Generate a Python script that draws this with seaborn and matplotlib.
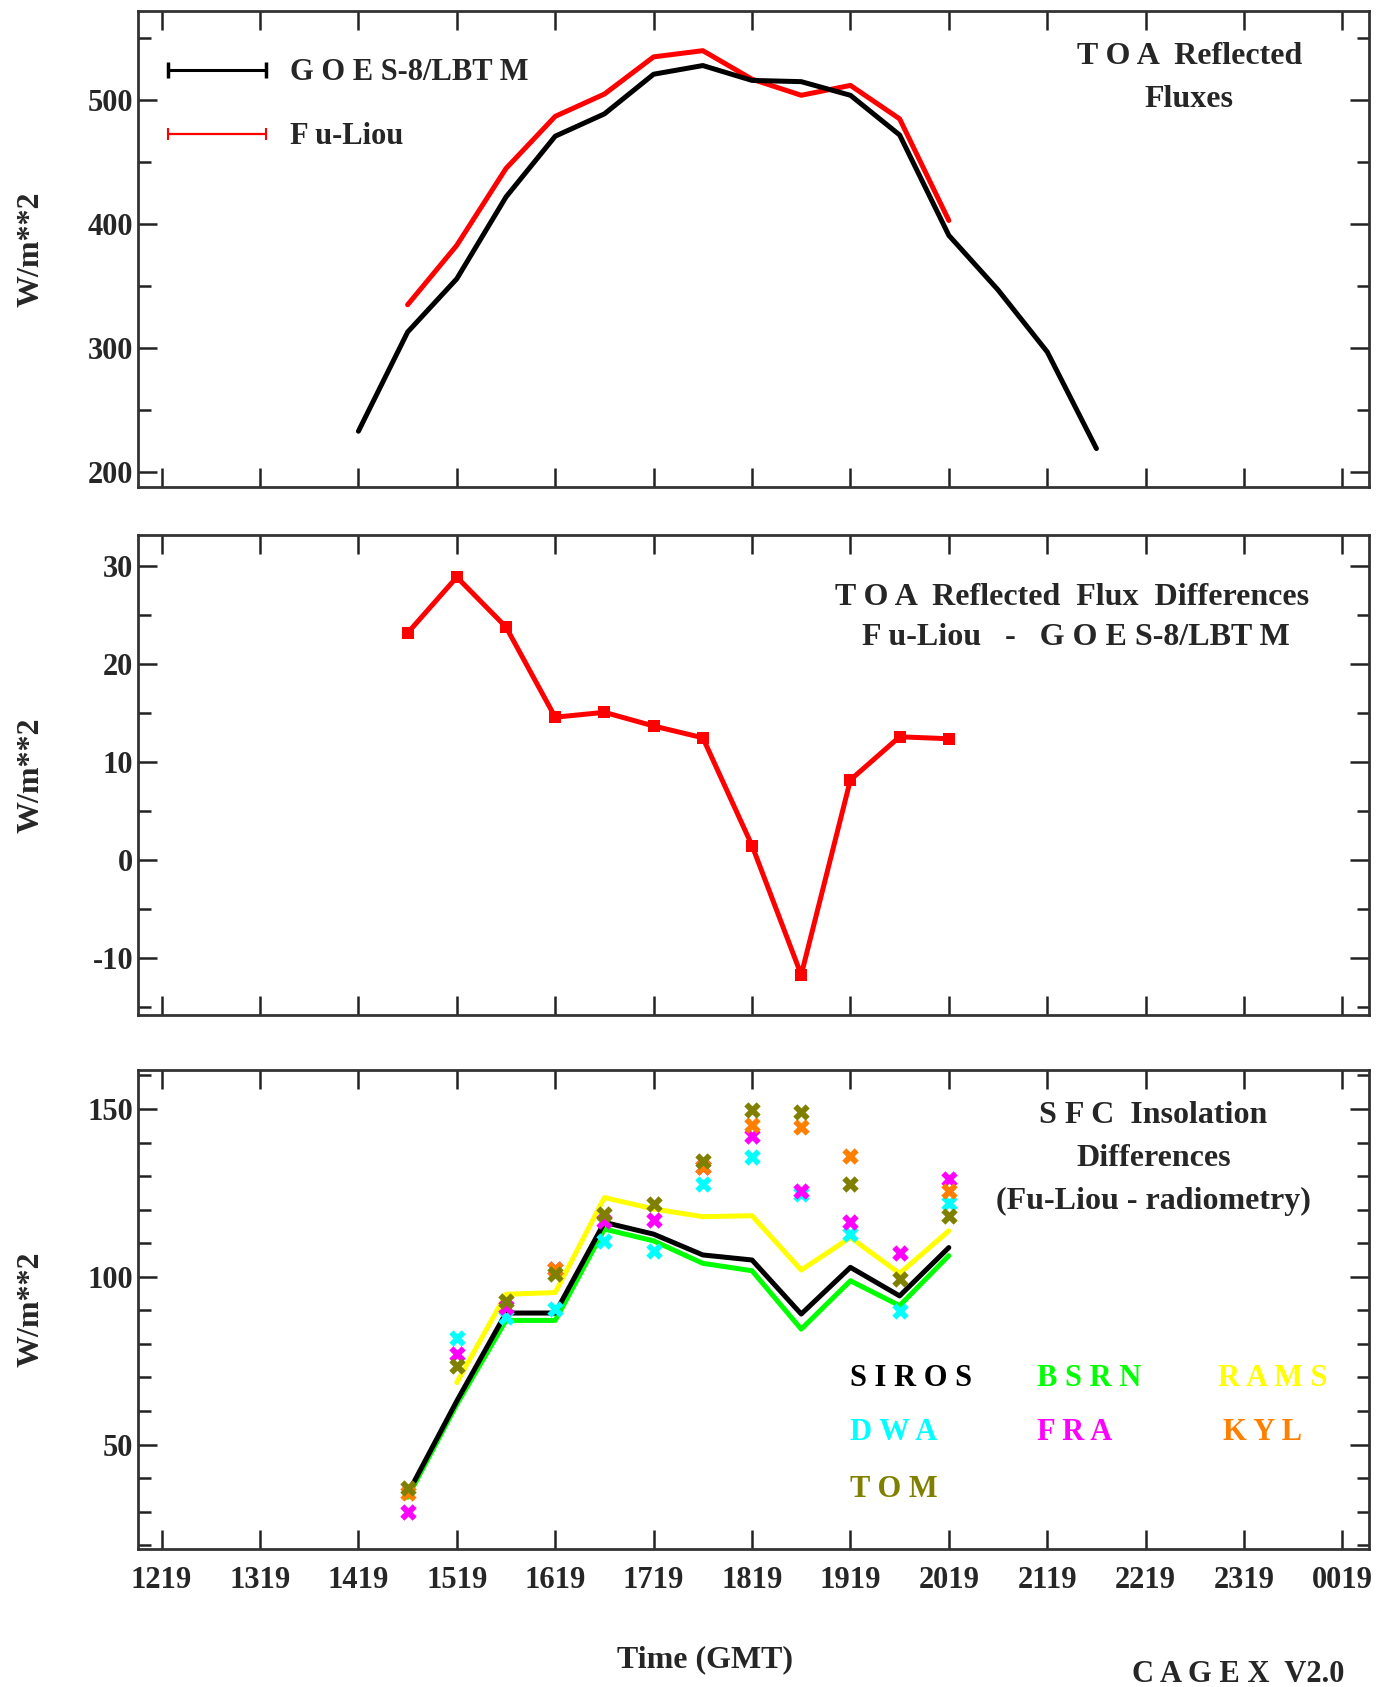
import numpy as np
import pandas as pd
import matplotlib
matplotlib.use("Agg")
import matplotlib.pyplot as plt
import seaborn as sns
from matplotlib.lines import Line2D
from matplotlib.ticker import MultipleLocator, FixedLocator

# ---------------- data ----------------
times_toa = ["1419", "1449", "1519", "1549", "1619", "1649", "1719", "1749",
             "1819", "1849", "1919", "1949", "2019", "2049", "2119", "2149"]
goes_lbtm = [233, 313, 356, 422, 471, 489, 521, 528, 516, 515, 504, 472, 391, 347, 297, 219]

times_fl = ["1449", "1519", "1549", "1619", "1649", "1719", "1749", "1819",
            "1849", "1919", "1949", "2019"]
fu_liou = [335, 383, 445, 487, 505, 535, 540, 517, 504, 512, 485, 403]
toa_diff = [23.2, 28.9, 23.8, 14.6, 15.1, 13.7, 12.5, 1.5, -11.7, 8.2, 12.6, 12.4]

times_sfc = times_fl
siros = [35.3, 63.0, 89.2, 89.2, 116.2, 112.7, 106.5, 105.0, 88.9, 102.8, 94.3, 108.7]
bsrn = [34.3, 62.0, 87.0, 87.0, 114.2, 110.7, 104.0, 101.8, 84.4, 98.8, 91.4, 106.3]
rams = [np.nan, 68.5, 94.8, 95.3, 123.6, 120.2, 117.9, 118.2, 102.0, 111.7, 101.0, 113.7]
dwa = [np.nan, 81.9, 87.9, 90.4, 110.7, 107.7, 127.6, 135.6, 124.6, 112.7, 89.9, 122.1]
fra = [29.8, 76.9, 90.9, 102.3, 116.7, 116.9, 132.8, 142.0, 125.6, 116.2, 107.0, 129.1]
kyl = [35.7, np.nan, np.nan, 102.3, np.nan, np.nan, 132.6, 145.2, 144.7, 136.0, np.nan, 125.6]
tom = [37.2, 73.5, 92.7, 100.8, 118.7, 121.6, 134.6, 149.7, 149.0, 127.6, 99.3, 118.2]

xtick_labels = ["1219", "1319", "1419", "1519", "1619", "1719", "1819",
                "1919", "2019", "2119", "2219", "2319", "0019"]


def to_hours(s, ref=12):
    h = int(s[:2]) + int(s[2:]) / 60.0
    if h < ref:
        h += 24
    return h


# ---------------- style ----------------
sns.set_theme(style="ticks")
plt.rcParams["font.family"] = ["Liberation Serif", "DejaVu Serif"]
plt.rcParams["font.weight"] = "bold"
plt.rcParams["axes.labelweight"] = "bold"
plt.rcParams["axes.unicode_minus"] = False

FS = 22
W, H = 1379, 1687
fig = plt.figure(figsize=(W / 100, H / 100), dpi=100)

left = 138 / W
width = (1369 - 138) / W
panels = [(11, 487), (535, 1015), (1070, 1549)]
axes = []
for top, bot in panels:
    axes.append(fig.add_axes([left, 1 - bot / H, width, (bot - top) / H]))

xt = [to_hours(s) for s in xtick_labels]
xlim = (xt[0] - 0.24, xt[-1] + 0.27)
YLAB_X = -0.075

# ---------------- panel 1 ----------------
ax = axes[0]
df1 = pd.concat([
    pd.DataFrame({"t": [to_hours(s) for s in times_toa], "v": goes_lbtm, "s": "GOES-8/LBTM"}),
    pd.DataFrame({"t": [to_hours(s) for s in times_fl], "v": fu_liou, "s": "Fu-Liou"}),
])
sns.lineplot(data=df1, x="t", y="v", hue="s", palette={"GOES-8/LBTM": "black", "Fu-Liou": "#ff0000"},
             hue_order=["Fu-Liou", "GOES-8/LBTM"], lw=3.6, ax=ax, legend=False)
ax.set_ylim(188, 572)
ax.yaxis.set_major_locator(FixedLocator([200, 300, 400, 500]))
ax.yaxis.set_minor_locator(FixedLocator([250, 350, 450, 550]))
handles = [Line2D([], [], color="black", lw=2.2, marker="|", markersize=12, markeredgewidth=2.5),
           Line2D([], [], color="#ff0000", lw=1.6, marker="|", markersize=8, markeredgewidth=1.5)]
leg = ax.legend(handles, ["G O E S-8/LBT M", "F u-Liou"], loc="upper left",
                bbox_to_anchor=(-0.008, 0.965), frameon=False, fontsize=FS, handlelength=3.8,
                handletextpad=0.5, labelspacing=1.15, numpoints=2, borderaxespad=0.6)
for t in leg.get_texts():
    t.set_fontweight("bold")
ax.text(0.854, 0.905, "T O A  Reflected", transform=ax.transAxes, ha="center", va="center",
        fontsize=FS + 1, fontweight="bold")
ax.text(0.854, 0.815, "Fluxes", transform=ax.transAxes, ha="center", va="center",
        fontsize=FS + 1, fontweight="bold")

# ---------------- panel 2 ----------------
ax = axes[1]
df2 = pd.DataFrame({"t": [to_hours(s) for s in times_fl], "v": toa_diff})
sns.lineplot(data=df2, x="t", y="v", color="#ff0000", lw=3.6, marker="s", markersize=8,
             markeredgewidth=0, ax=ax)
ax.set_ylim(-15.8, 33.2)
ax.yaxis.set_major_locator(MultipleLocator(10))
ax.yaxis.set_minor_locator(MultipleLocator(5))
ax.text(0.759, 0.870, "T O A  Reflected  Flux  Differences", transform=ax.transAxes, ha="center",
        va="center", fontsize=FS + 1, fontweight="bold")
ax.text(0.762, 0.787, "F u-Liou   -   G O E S-8/LBT M", transform=ax.transAxes, ha="center",
        va="center", fontsize=FS + 1, fontweight="bold")

# ---------------- panel 3 ----------------
ax = axes[2]
ts = [to_hours(s) for s in times_sfc]
line_cols = {"SIROS": "black", "BSRN": "#00ff00", "RAMS": "#ffff00"}
df3 = pd.concat([pd.DataFrame({"t": ts, "v": vals, "s": name})
                 for name, vals in [("RAMS", rams), ("BSRN", bsrn), ("SIROS", siros)]])
sns.lineplot(data=df3.dropna(), x="t", y="v", hue="s", palette=line_cols,
             hue_order=["RAMS", "BSRN", "SIROS"], lw=3.6, ax=ax, legend=False)
mark_cols = {"DWA": "#00ffff", "FRA": "#ff00ff", "KYL": "#ff8000", "TOM": "#808000"}
df4 = pd.concat([pd.DataFrame({"t": ts, "v": vals, "s": name})
                 for name, vals in [("DWA", dwa), ("FRA", fra), ("KYL", kyl), ("TOM", tom)]])
for name in ["DWA", "FRA", "KYL", "TOM"]:
    sub = df4[df4["s"] == name].dropna()
    sns.scatterplot(data=sub, x="t", y="v", color=mark_cols[name], marker="X", s=140,
                    linewidth=0, ax=ax, legend=False, zorder=5)
ax.set_ylim(18.9, 161.6)
ax.yaxis.set_major_locator(MultipleLocator(50))
ax.yaxis.set_minor_locator(MultipleLocator(10))
ax.text(0.825, 0.906, "S F C  Insolation", transform=ax.transAxes, ha="center", va="center",
        fontsize=FS + 1, fontweight="bold")
ax.text(0.825, 0.816, "Differences", transform=ax.transAxes, ha="center", va="center",
        fontsize=FS + 1, fontweight="bold")
ax.text(0.825, 0.726, "(Fu-Liou - radiometry)", transform=ax.transAxes, ha="center",
        va="center", fontsize=FS + 1, fontweight="bold")
leg_items = [("S I R O S", "black", 0.578, 0.355), ("B S R N", "#00ff00", 0.730, 0.355),
             ("R A M S", "#ffff00", 0.877, 0.355), ("D W A", "#00ffff", 0.578, 0.243),
             ("F R A", "#ff00ff", 0.730, 0.243), ("K Y L", "#ff8000", 0.881, 0.243),
             ("T O M", "#808000", 0.578, 0.124)]
for txt, c, x, y in leg_items:
    ax.text(x, y, txt, transform=ax.transAxes, ha="left", va="center", fontsize=FS,
            fontweight="bold", color=c)

# ---------------- common axis styling ----------------
for i, a in enumerate(axes):
    a.set_xlim(*xlim)
    a.set_xticks(xt)
    if i == 2:
        a.set_xticklabels(xtick_labels)
        a.tick_params(axis="x", pad=12)
    else:
        a.set_xticklabels([])
    a.tick_params(axis="both", which="both", direction="in", top=True, right=True,
                  width=1.8, color="#222222", labelsize=FS)
    a.tick_params(axis="both", which="major", length=14)
    a.tick_params(axis="y", which="minor", length=9)
    for sp in a.spines.values():
        sp.set_linewidth(2)
        sp.set_color("#333333")
    a.set_xlabel("")
    a.set_ylabel("W/m**2", fontsize=FS + 1, fontweight="bold")
    a.yaxis.set_label_coords(YLAB_X, 0.5)
    for lab in a.get_yticklabels() + a.get_xticklabels():
        lab.set_fontweight("bold")
        lab.set_fontsize(FS)

fig.text(705 / W, 1 - 1660 / H, "Time (GMT)", ha="center", va="center", fontsize=FS + 1,
         fontweight="bold")
fig.text(1238 / W, 1 - 1675 / H, "C A G E X  V2.0", ha="center", va="center", fontsize=FS,
         fontweight="bold")

fig.savefig("out.png", dpi=100)
